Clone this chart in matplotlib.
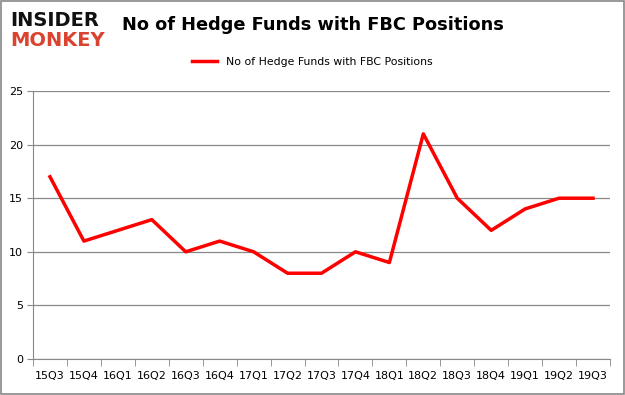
import matplotlib.pyplot as plt
from matplotlib.patches import Rectangle

# quarters and fund counts
quarters = ['15Q3', '15Q4', '16Q1', '16Q2', '16Q3', '16Q4', '17Q1', '17Q2', '17Q3',
            '17Q4', '18Q1', '18Q2', '18Q3', '18Q4', '19Q1', '19Q2', '19Q3']
funds = [17, 11, 12, 13, 10, 11, 10, 8, 8, 10, 9, 21, 15, 12, 14, 15, 15]
yticks = [0, 5, 10, 15, 20, 25]

fig = plt.figure(figsize=(6.25, 3.95), dpi=100)
ax = fig.add_axes([33 / 625, 1 - 359 / 395, 577 / 625, 268 / 395])

x = list(range(len(quarters)))
ax.plot(x, funds, color='#ff0000', linewidth=2.5, label='No of Hedge Funds with FBC Positions')

ax.set_xlim(-0.5, len(quarters) - 0.5)
ax.set_ylim(0, 25)
ax.set_yticks(yticks)
ax.set_yticklabels([str(v) for v in yticks], fontsize=8)
ax.set_xticks(x)
ax.set_xticklabels(quarters, fontsize=8)
ax.tick_params(axis='x', length=0, pad=9)
ax.tick_params(axis='y', length=4, color='#888888', pad=3)
# minor ticks between categories
ax.set_xticks([i - 0.5 for i in range(len(quarters) + 1)], minor=True)
ax.tick_params(axis='x', which='minor', length=5, color='#888888')

ax.grid(axis='y', color='#888888', linewidth=0.9)
ax.set_axisbelow(True)
for s in ['top', 'right']:
    ax.spines[s].set_visible(False)
ax.spines['left'].set_color('#888888')
ax.spines['bottom'].set_color('#888888')

leg = ax.legend(loc='center', bbox_to_anchor=(0.5, (395 - 62) / 395), frameon=False,
                fontsize=7.8, handlelength=2.3, borderaxespad=0,
                bbox_transform=fig.transFigure)

fig.text(313 / 625, 1 - 25 / 395, 'No of Hedge Funds with FBC Positions', ha='center',
         va='center', fontsize=12.8, fontweight='bold')

# logo
fig.text(10 / 625, 1 - 20 / 395, 'INSIDER', fontsize=14, fontweight='heavy',
         color='#111111', ha='left', va='center')
fig.text(10 / 625, 1 - 41 / 395, 'MONKEY', fontsize=14, fontweight='heavy',
         color='#d9432f', ha='left', va='center')

fig.patches.append(Rectangle((0.001, 0.002), 0.997, 0.995, transform=fig.transFigure,
                             fill=False, edgecolor='#888888', linewidth=1.2))

fig.savefig('out.png', dpi=100)
